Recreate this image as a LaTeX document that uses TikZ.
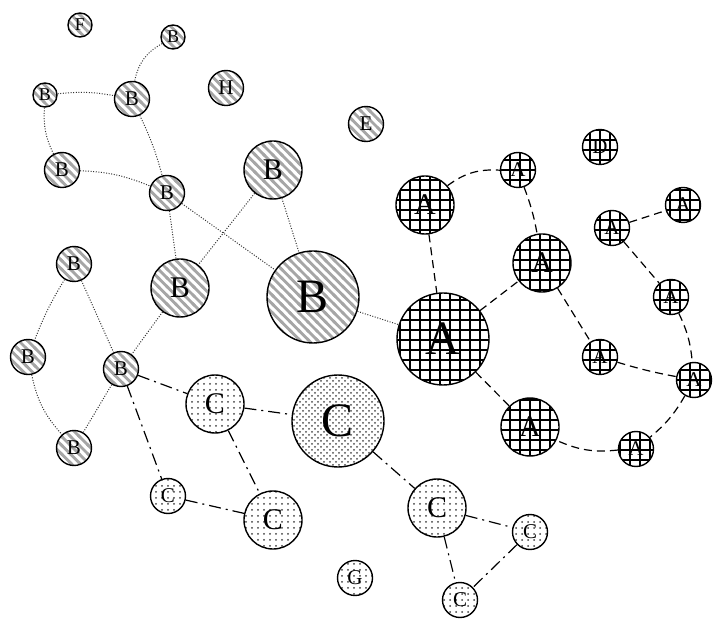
\documentclass[tikz,border=0pt]{standalone}
\usepackage{fontspec}
\setmainfont{Liberation Serif}
\usetikzlibrary{patterns}

\pgfdeclarepatternformonly{hatchb}{\pgfqpoint{-1pt}{-1pt}}{\pgfqpoint{5.5pt}{5.5pt}}{\pgfqpoint{4.4pt}{4.4pt}}
{
	\pgfsetlinewidth{1.4pt}
	\pgfpathmoveto{\pgfqpoint{-0.6pt}{5pt}}
	\pgfpathlineto{\pgfqpoint{5pt}{-0.6pt}}
	\pgfusepath{stroke}
}
\pgfdeclarepatternformonly{grida}{\pgfqpoint{-1pt}{-1pt}}{\pgfqpoint{6pt}{6pt}}{\pgfqpoint{5pt}{5pt}}
{
	\pgfsetlinewidth{0.55pt}
	\pgfpathmoveto{\pgfqpoint{0pt}{-0.1pt}}
	\pgfpathlineto{\pgfqpoint{0pt}{5.1pt}}
	\pgfpathmoveto{\pgfqpoint{-0.1pt}{0pt}}
	\pgfpathlineto{\pgfqpoint{5.1pt}{0pt}}
	\pgfusepath{stroke}
}

\begin{document}
\begin{tikzpicture}[x=0.5pt,y=-0.5pt,
		every node/.style={circle,draw,line width=0.7pt,inner sep=0pt},
		s1/.style={minimum size=12pt,font=\fontsize{9}{9}\selectfont},
		s2/.style={minimum size=17.5pt,font=\fontsize{10.5}{10.5}\selectfont},
		s3/.style={minimum size=29pt,font=\fontsize{15}{15}\selectfont},
		s4/.style={minimum size=46pt,font=\fontsize{24}{24}\selectfont},
		nb/.style={pattern=hatchb,pattern color=gray!70},
		na/.style={pattern=grida},
		nc/.style={pattern=dots,pattern color=gray!50!black},
		ncc/.style={pattern=crosshatch dots,pattern color=gray!60!black},
		eb/.style={dash pattern=on 0.5pt off 0.8pt,gray!40!black,line width=0.5pt},
		ea/.style={dash pattern=on 4pt off 2.5pt,semithick},
		ec/.style={dash pattern=on 6pt off 2.5pt on 1pt off 2.5pt,semithick}]
		\useasboundingbox (0,0) rectangle (717,630);
		\node[nb,s1] (f) at (80,25) {F};
		\node[nb,s1] (b1) at (173,37) {B};
		\node[nb,s1] (b2) at (45,95) {B};
		\node[nb,s2] (b3) at (132,99) {B};
		\node[nb,s2] (h) at (226,88) {H};
		\node[nb,s2] (e) at (366,124) {E};
		\node[nb,s2] (b4) at (62,170) {B};
		\node[nb,s2] (b5) at (167,193) {B};
		\node[nb,s3] (b6) at (273,170) {B};
		\node[nb,s3] (b7) at (180,288) {B};
		\node[nb,s4] (b8) at (313,297) {B};
		\node[nb,s2] (b9) at (74,264) {B};
		\node[nb,s2] (b10) at (28,357) {B};
		\node[nb,s2] (b11) at (121,369) {B};
		\node[nb,s2] (b12) at (74,448) {B};
		\node[na,s3] (a1) at (425,205) {A};
		\node[na,s2] (a2) at (518,170) {A};
		\node[na,s2] (d) at (600,147) {D};
		\node[na,s3] (a3) at (542,263) {A};
		\node[na,s2] (a4) at (612,228) {A};
		\node[na,s2] (a5) at (683,205) {A};
		\node[na,s2] (a6) at (671,297) {A};
		\node[na,s4] (a7) at (443,339) {A};
		\node[na,s2] (a8) at (600,357) {A};
		\node[na,s2] (a9) at (694,380) {A};
		\node[na,s3] (a10) at (530,427) {A};
		\node[na,s2] (a11) at (636,449) {A};
		\node[nc,s3] (c1) at (215,404) {C};
		\node[ncc,s4] (c2) at (338,421) {C};
		\node[nc,s2] (c3) at (168,496) {C};
		\node[nc,s3] (c4) at (273,520) {C};
		\node[nc,s3] (c5) at (437,508) {C};
		\node[nc,s2] (c6) at (530,532) {C};
		\node[nc,s2] (g) at (355,578) {G};
		\node[nc,s2] (c7) at (460,600) {C};
		\draw[eb] (b1) to[bend right=25] (b3);
		\draw[eb] (b2) to[bend left=8] (b3);
		\draw[eb] (b2) to[bend right=15] (b4);
		\draw[eb] (b4) to[bend left=10] (b5);
		\draw[eb] (b3) to[bend left=5] (b5);
		\draw[eb] (b5) -- (b7);
		\draw[eb] (b5) -- (b8);
		\draw[eb] (b6) -- (b7);
		\draw[eb] (b6) -- (b8);
		\draw[eb] (b8) -- (a7);
		\draw[eb] (b7) -- (b11);
		\draw[eb] (b9) to[bend right=5] (b10);
		\draw[eb] (b9) -- (b11);
		\draw[eb] (b10) to[bend right=15] (b12);
		\draw[eb] (b11) -- (b12);
		\draw[ec] (b11) -- (c1);
		\draw[ec] (b11) -- (c3);
		\draw[ec] (c1) -- (c2);
		\draw[ec] (c1) -- (c4);
		\draw[ec] (c3) -- (c4);
		\draw[ec] (c2) -- (c5);
		\draw[ec] (c5) -- (c6);
		\draw[ec] (c5) -- (c7);
		\draw[ec] (c6) -- (c7);
		\draw[ea] (a1) to[bend left=20] (a2);
		\draw[ea] (a1) -- (a7);
		\draw[ea] (a2) to[bend left=5] (a3);
		\draw[ea] (a7) -- (a3);
		\draw[ea] (a3) -- (a8);
		\draw[ea] (a8) to[bend right=3] (a9);
		\draw[ea] (a4) -- (a5);
		\draw[ea] (a4) -- (a6);
		\draw[ea] (a6) to[bend left=10] (a9);
		\draw[ea] (a9) to[bend left=10] (a11);
		\draw[ea] (a11) to[bend left=15] (a10);
		\draw[ea] (a7) -- (a10);
	\end{tikzpicture}
\end{document}
